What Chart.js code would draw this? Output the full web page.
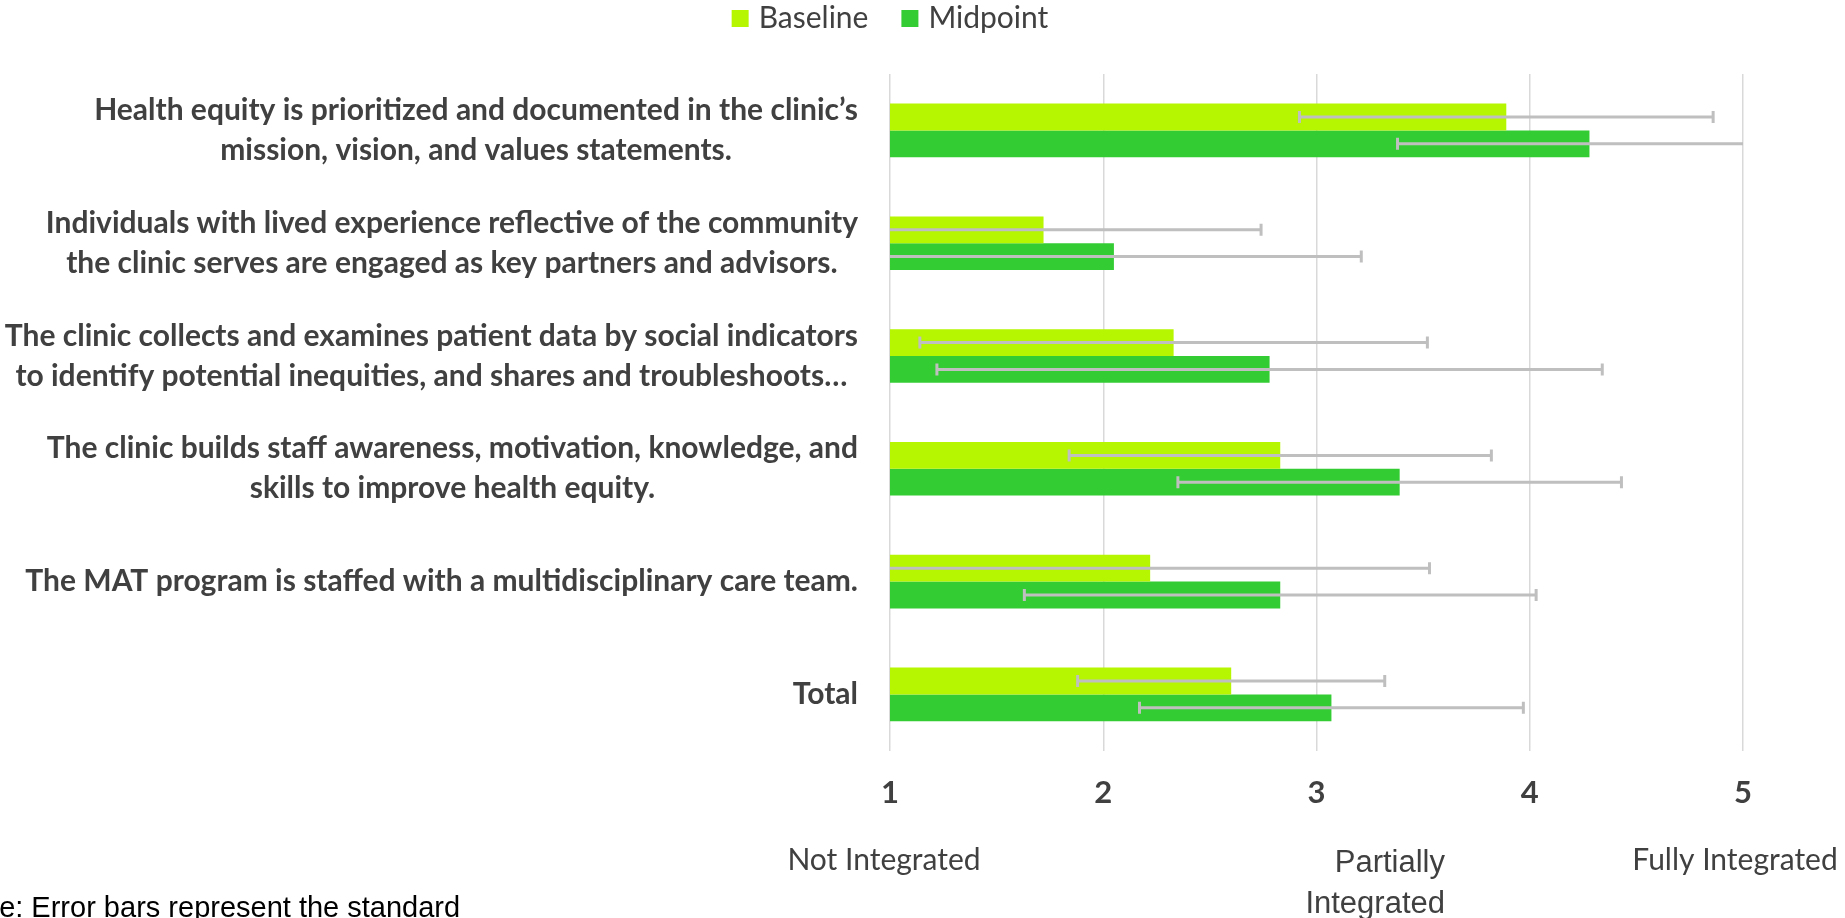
<!DOCTYPE html>
<html>
<head>
<meta charset="utf-8">
<script src="https://cdn.jsdelivr.net/npm/chart.js@4.4.1/dist/chart.umd.min.js"></script>
<style>
  html, body { margin: 0; padding: 0; background: #fff; overflow: hidden; }
  #wrap { position: relative; width: 1845px; height: 918px; }
</style>
</head>
<body>
<div id="wrap"><canvas id="myChart"></canvas></div>
<script>
// ================= Data =================
const categories = [
  ['Health equity is prioritized and documented in the clinic\u2019s', 'mission, vision, and values statements.'],
  ['Individuals with lived experience reflective of the community', 'the clinic serves are engaged as key partners and advisors.'],
  ['The clinic collects and examines patient data by social indicators', 'to identify potential inequities, and shares and troubleshoots\u2026'],
  ['The clinic builds staff awareness, motivation, knowledge, and', 'skills to improve health equity.'],
  ['The MAT program is staffed with a multidisciplinary care team.'],
  ['Total']
];
const seriesNames = ['Baseline', 'Midpoint'];
const baseline = [3.89, 1.72, 2.33, 2.83, 2.22, 2.60];
const midpoint = [4.28, 2.05, 2.78, 3.39, 2.83, 3.07];
const baselineSD = [0.97, 1.02, 1.19, 0.99, 1.31, 0.72];
const midpointSD = [0.90, 1.16, 1.56, 1.04, 1.20, 0.90];
const xMin = 1, xMax = 5;
const scaleNotes = ['Not Integrated', ['Partially', 'Integrated'], 'Fully Integrated'];
const noteText = 'Note: Error bars represent the standard';

const colors = ['#B5F600', '#33CC33'];
const textColor = '#404040';


// ================= Error bars =================
const errorBars = {
  id: 'errorBars',
  afterDatasetsDraw(chart) {
    const { ctx, chartArea: a, scales: { x } } = chart;
    ctx.save();
    ctx.beginPath();
    ctx.rect(a.left, a.top, a.right - a.left, a.bottom - a.top);
    ctx.clip();
    ctx.strokeStyle = '#BFBFBF';
    ctx.lineWidth = 3;
    chart.data.datasets.forEach((ds, di) => {
      chart.getDatasetMeta(di).data.forEach((bar, i) => {
        const v = ds.data[i], sd = ds.sd[i];
        const lo = x.getPixelForValue(v - sd);
        const hi = x.getPixelForValue(v + sd);
        const y = bar.y;
        ctx.beginPath();
        ctx.moveTo(lo, y); ctx.lineTo(hi, y);
        ctx.moveTo(lo, y - 6); ctx.lineTo(lo, y + 6);
        ctx.moveTo(hi, y - 6); ctx.lineTo(hi, y + 6);
        ctx.stroke();
      });
    });
    ctx.restore();
  }
};


// ================= Labels, legend, notes =================
const extraText = {
  id: 'extraText',
  afterDraw(chart) {
    const { ctx, chartArea: a, scales: { y } } = chart;
    ctx.save();
    ctx.fillStyle = textColor;
    ctx.textBaseline = 'middle';

    // category labels: block right-aligned, lines centred inside the block
    ctx.font = 'bold 30px Lato';
    ctx.textAlign = 'center';
    const lineH = 40;
    const right = a.left - 32;
    categories.forEach((lines, i) => {
      const cy = y.getPixelForValue(i);
      const w = Math.max(...lines.map(l => ctx.measureText(l).width));
      lines.forEach((l, k) => {
        ctx.fillText(l, right - w / 2, cy + (k - (lines.length - 1) / 2) * lineH);
      });
    });

    // legend
    ctx.font = '30px Lato';
    ctx.textAlign = 'left';
    const box = 17, gap = 10, between = 33;
    const widths = seriesNames.map(n => ctx.measureText(n).width);
    const total = widths.reduce((s, w) => s + box + gap + w, 0) + between;
    let lx = 890 - total / 2;
    seriesNames.forEach((n, i) => {
      ctx.fillStyle = colors[i];
      ctx.fillRect(lx, 10, box, box);
      ctx.fillStyle = textColor;
      ctx.fillText(n, lx + box + gap, 18);
      lx += box + gap + widths[i] + between;
    });

    // scale descriptions under the axis
    ctx.textAlign = 'center';
    ctx.fillText(scaleNotes[0], 884, 860);
    ctx.fillText(scaleNotes[2], 1735, 860);
    ctx.font = '31px "Liberation Sans", Arial';
    ctx.textAlign = 'right';
    ctx.textBaseline = 'alphabetic';
    ctx.fillText(scaleNotes[1][0], 1445, 872);
    ctx.fillText(scaleNotes[1][1], 1445, 913);

    // footnote, cut off at the left edge like the original
    ctx.font = '29px "Liberation Sans", Arial';
    ctx.textAlign = 'left';
    ctx.fillStyle = '#000';
    ctx.fillText(noteText, -46, 917);
    ctx.restore();
  }
};


// ================= Bar Chart =================
const ctx = document.getElementById('myChart');

new Chart(ctx, {
  type: 'bar',
  data: {
    labels: categories,
    datasets: [
      { label: seriesNames[0], data: baseline, sd: baselineSD, backgroundColor: colors[0] },
      { label: seriesNames[1], data: midpoint, sd: midpointSD, backgroundColor: colors[1] }
    ]
  },
  options: {
    indexAxis: 'y',
    responsive: true,
    maintainAspectRatio: false,
    animation: false,
    layout: { padding: { top: 74, right: 102, bottom: 82, left: 0 } },
    datasets: { bar: { categoryPercentage: 0.475, barPercentage: 1 } },
    scales: {
      x: {
        min: xMin,
        max: xMax,
        ticks: {
          stepSize: 1,
          padding: 24,
          color: textColor,
          font: { family: 'Lato', size: 31, weight: 'bold' }
        },
        grid: { color: '#D9D9D9', lineWidth: 1.5, drawTicks: false },
        border: { display: false }
      },
      y: {
        ticks: { display: false },
        grid: { display: false },
        border: { display: false },
        afterFit: s => { s.width = 890; }
      }
    },
    plugins: {
      legend: { display: false },
      tooltip: { enabled: false }
    }
  },
  plugins: [errorBars, extraText]
});
</script>
</body>
</html>
